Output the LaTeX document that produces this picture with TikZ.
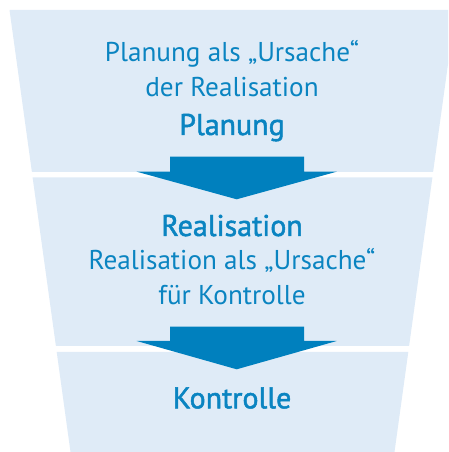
\documentclass[tikz,border=0pt]{standalone}
\usepackage{fontspec}
\setmainfont{PT Sans}
\newfontfamily\medfont[FakeBold=1.6]{PT Sans}
\definecolor{bandfill}{HTML}{DFEBF7}
\definecolor{arrowblue}{HTML}{0080BE}
\definecolor{textblue}{HTML}{0A84C1}
\begin{document}
\begin{tikzpicture}[x=1pt,y=1pt,
  band/.style={fill=bandfill,draw=none},
  bigarrow/.style={fill=arrowblue,draw=none},
  regtext/.style={anchor=base,text=textblue,inner sep=0pt,font=\fontsize{27.2}{32}\selectfont},
  boldtext/.style={anchor=base,text=textblue,inner sep=0pt,font=\medfont\fontsize{30}{35}\selectfont}]
\useasboundingbox (0,0) rectangle (448,452);
\clip (0,0) rectangle (448,452);
% bands (continuous funnel split by white gaps)
\fill[band] (9.5,442) -- (455.5,442) -- (433.1,280) -- (31.9,280) -- cycle;
\fill[band] (32.6,274.5) -- (432.4,274.5) -- (409.1,106) -- (55.9,106) -- cycle;
\fill[band] (56.7,100) -- (408.3,100) -- (394.5,0) -- (70.5,0) -- cycle;
% arrows
\fill[bigarrow] (170,295.3) -- (304,295.3) -- (304,280.3) -- (336.7,280.3) -- (236.7,252.7) -- (136.7,280.3) -- (170,280.3) -- cycle;
\fill[bigarrow] (170,125.3) -- (304,125.3) -- (304,111) -- (336.7,111) -- (236.7,82.7) -- (136.7,111) -- (170,111) -- cycle;
% texts
\node[regtext] (p1) at (232,390.3) {Planung als „Ursache“};
\node[regtext] (p2) at (232,355.3) {der Realisation};
\node[boldtext] (p3) at (232,317) {Planung};
\node[boldtext] (r1) at (232,216) {Realisation};
\node[regtext] (r2) at (232,182) {Realisation als „Ursache“};
\node[regtext] (r3) at (232,147) {für Kontrolle};
\node[boldtext] (k1) at (232,43.7) {Kontrolle};
\end{tikzpicture}
\end{document}
